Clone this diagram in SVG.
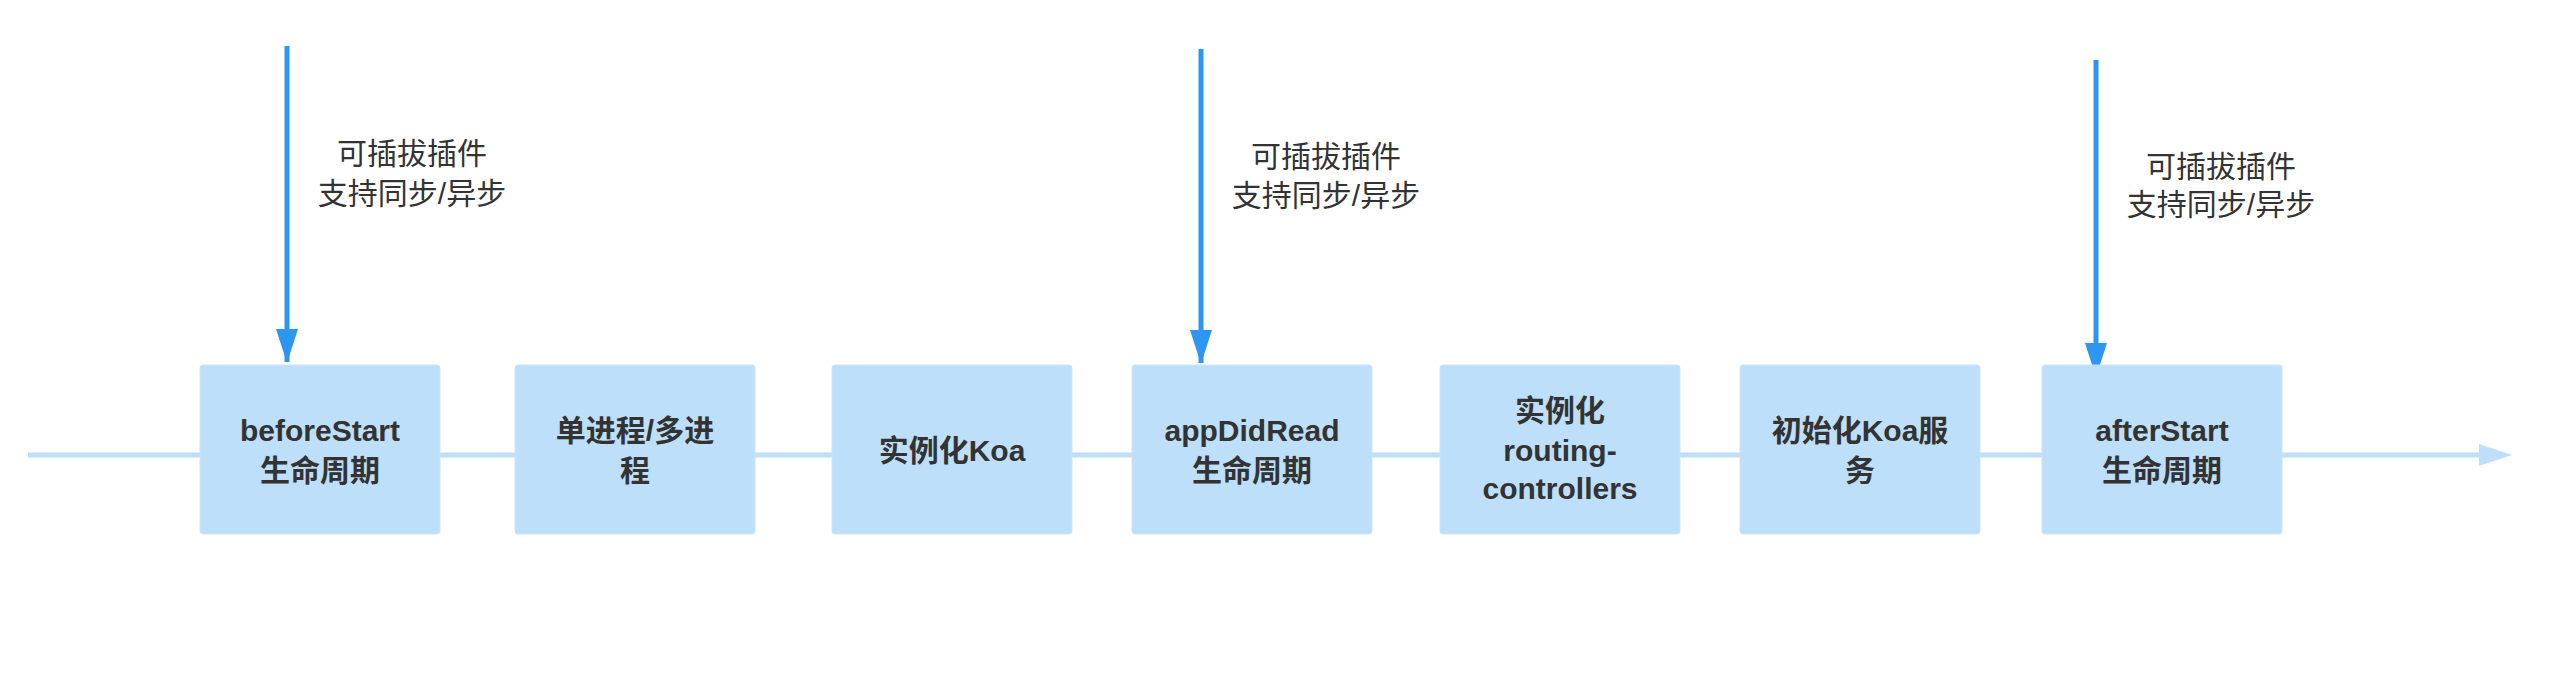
<svg xmlns="http://www.w3.org/2000/svg" width="2560" height="695" viewBox="0 0 2560 695">
<style>
.box{fill:#bddff9;stroke:#c9e5fa;stroke-width:1}
.lbl{font-family:"Liberation Sans","Noto Sans CJK SC",sans-serif;font-size:30px;font-weight:600;fill:#333333;text-anchor:middle}
.ann{font-family:"Liberation Sans","Noto Sans CJK SC",sans-serif;font-size:30px;font-weight:400;fill:#333333;text-anchor:middle}
.tl{stroke:#bddff9;stroke-width:5;fill:none}
.pl{stroke:#2d96f0;stroke-width:5;fill:none}
</style>
<defs>
<marker id="hb" markerUnits="userSpaceOnUse" markerWidth="34" markerHeight="22" refX="33" refY="11" orient="auto">
<path d="M0,0 L34,11 L0,22 Z" fill="#2d96f0"/>
</marker>
</defs>
<rect width="2560" height="695" fill="#ffffff"/>
<g id="connectors">
<line class="tl" x1="28" y1="455" x2="2480" y2="455"/>
<path d="M2479,444 L2512,455 L2479,466 Z" fill="#bddff9"/>
<line class="pl" x1="287" y1="46" x2="287" y2="362" marker-end="url(#hb)"/>
<line class="pl" x1="1201" y1="49" x2="1201" y2="363" marker-end="url(#hb)"/>
<line class="pl" x1="2096" y1="60" x2="2096" y2="376" marker-end="url(#hb)"/>
</g>
<g id="annotations">
<text class="ann" x="412" y="164">可插拔插件</text>
<text class="ann" x="412" y="204">支持同步/异步</text>
<text class="ann" x="1326" y="167">可插拔插件</text>
<text class="ann" x="1326" y="206">支持同步/异步</text>
<text class="ann" x="2221" y="177">可插拔插件</text>
<text class="ann" x="2221" y="215">支持同步/异步</text>
</g>
<g id="beforeStart">
<rect class="box" x="200" y="365" width="240" height="169" rx="3"/>
<text class="lbl" x="320" y="441">beforeStart</text>
<text class="lbl" x="320" y="481">生命周期</text>
</g>
<g id="process">
<rect class="box" x="515" y="365" width="240" height="169" rx="3"/>
<text class="lbl" x="635" y="441">单进程/多进</text>
<text class="lbl" x="635" y="481">程</text>
</g>
<g id="koa">
<rect class="box" x="832" y="365" width="240" height="169" rx="3"/>
<text class="lbl" x="952" y="461">实例化Koa</text>
</g>
<g id="appDidRead">
<rect class="box" x="1132" y="365" width="240" height="169" rx="3"/>
<text class="lbl" x="1252" y="441">appDidRead</text>
<text class="lbl" x="1252" y="481">生命周期</text>
</g>
<g id="routing">
<rect class="box" x="1440" y="365" width="240" height="169" rx="3"/>
<text class="lbl" x="1560" y="421">实例化</text>
<text class="lbl" x="1560" y="461">routing-</text>
<text class="lbl" x="1560" y="499">controllers</text>
</g>
<g id="initKoa">
<rect class="box" x="1740" y="365" width="240" height="169" rx="3"/>
<text class="lbl" x="1860" y="441">初始化Koa服</text>
<text class="lbl" x="1860" y="481">务</text>
</g>
<g id="afterStart">
<rect class="box" x="2042" y="365" width="240" height="169" rx="3"/>
<text class="lbl" x="2162" y="441">afterStart</text>
<text class="lbl" x="2162" y="481">生命周期</text>
</g>
</svg>
